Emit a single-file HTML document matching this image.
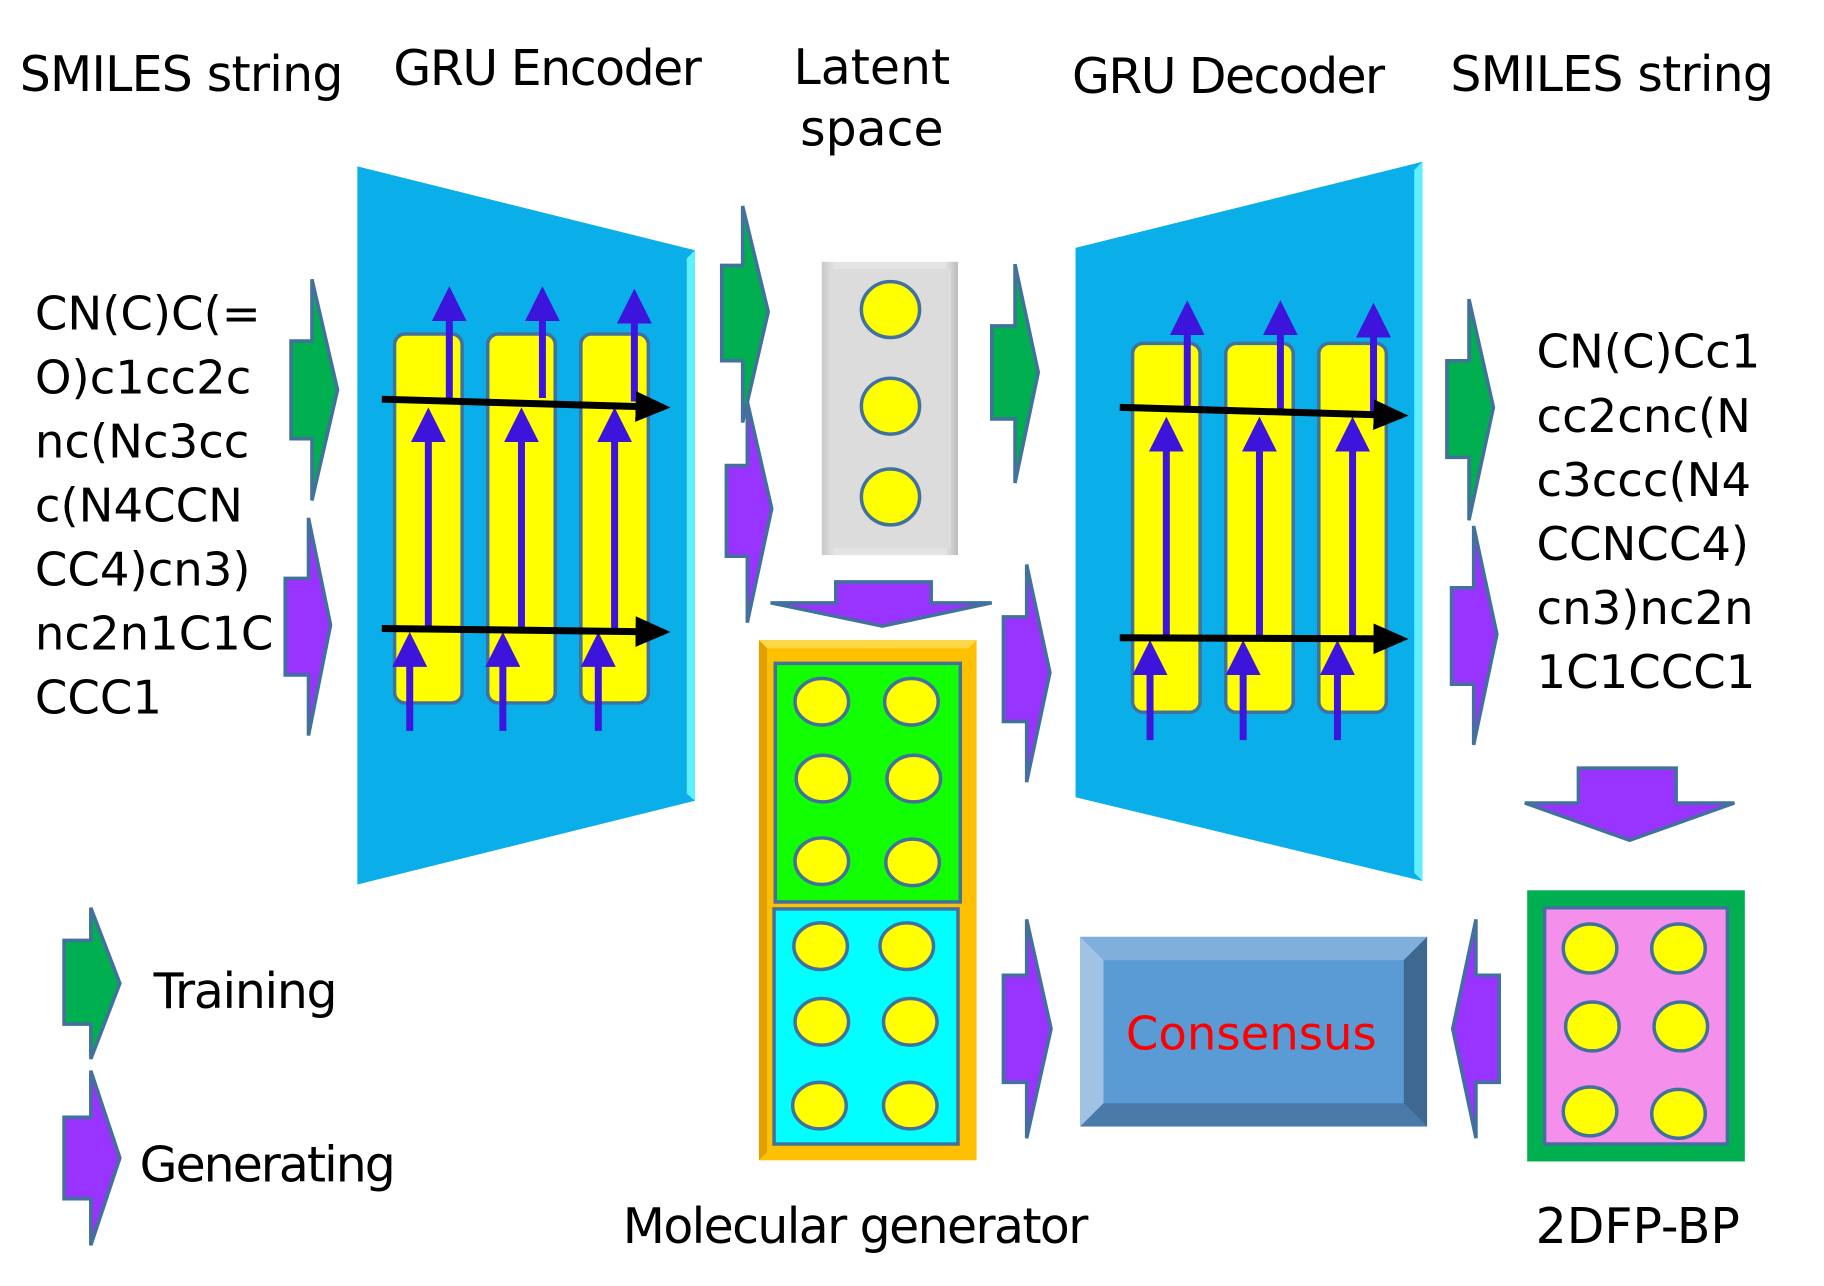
<!DOCTYPE html>
<html><head><meta charset="utf-8"><style>html,body{margin:0;padding:0;background:#fff}svg{display:block}</style></head>
<body>
<svg width="1824" height="1286" viewBox="0 0 1567 1105" preserveAspectRatio="none" xmlns="http://www.w3.org/2000/svg" font-family="'DejaVu Sans','Liberation Sans',sans-serif">
<defs>
<marker id="bh" markerWidth="6" markerHeight="6" refX="4" refY="3" orient="auto" markerUnits="strokeWidth"><path d="M0,0.8 L5,3 L0,5.2 Z" fill="#000"/></marker>
<marker id="ph" markerWidth="6" markerHeight="6" refX="3" refY="3" orient="auto" markerUnits="strokeWidth"><path d="M0,0.5 L5,3 L0,5.5 Z" fill="#3c14dc"/></marker>
<linearGradient id="gr" x1="0" x2="1"><stop offset="0" stop-color="#c8c8c8"/><stop offset="0.1" stop-color="#e4e4e4"/><stop offset="0.9" stop-color="#e4e4e4"/><stop offset="1" stop-color="#bcbcbc"/></linearGradient>
</defs>
<g fill="#000" font-size="42">
<text x="17" y="78" textLength="278">SMILES string</text>
<text x="338" y="73" textLength="265">GRU Encoder</text>
<text x="749" y="72" text-anchor="middle">Latent</text>
<text x="749" y="125" text-anchor="middle">space</text>
<text x="921" y="80" textLength="269">GRU Decoder</text>
<text x="1246" y="78" textLength="278">SMILES string</text>
</g>
<g fill="#000" font-size="40">
<text x="30" y="283">CN(C)C(=</text><text x="30" y="338">O)c1cc2c</text><text x="30" y="393">nc(Nc3cc</text><text x="30" y="448">c(N4CCN</text><text x="30" y="503">CC4)cn3)</text><text x="30" y="558">nc2n1C1C</text><text x="30" y="613">CCC1</text>
<text x="1320" y="316">CN(C)Cc1</text><text x="1320" y="371">cc2cnc(N</text><text x="1320" y="426">c3ccc(N4</text><text x="1320" y="481">CCNCC4)</text><text x="1320" y="536">cn3)nc2n</text><text x="1320" y="591">1C1CCC1</text>
</g>
<!-- encoder -->
<polygon points="307,143 597,215 597,688 307,760" fill="#0aaee8"/>
<polygon points="590,222 597,215 597,688 590,682" fill="#5ff0ff"/>
<g fill="#ffff00" stroke="#41719c" stroke-width="3">
<rect x="339" y="287" width="58" height="317" rx="9"/><rect x="419" y="287" width="58" height="317" rx="9"/><rect x="499" y="287" width="58" height="317" rx="9"/>
</g>
<g stroke="#3c14dc" stroke-width="6" marker-end="url(#ph)">
<line x1="386" y1="342" x2="386" y2="258"/><line x1="466" y1="342" x2="466" y2="258"/><line x1="545" y1="345" x2="545" y2="260"/>
<line x1="368" y1="540" x2="368" y2="362"/><line x1="448" y1="540" x2="448" y2="362"/><line x1="528" y1="540" x2="528" y2="362"/>
<line x1="352" y1="628" x2="352" y2="555"/><line x1="432" y1="628" x2="432" y2="555"/><line x1="514" y1="628" x2="514" y2="555"/>
</g>
<g stroke="#000" stroke-width="6" marker-end="url(#bh)">
<line x1="328" y1="343" x2="570" y2="350"/><line x1="328" y1="540" x2="570" y2="543"/>
</g>
<!-- decoder -->
<polygon points="924,213 1222,139 1222,757 924,685" fill="#0aaee8"/>
<polygon points="1215,146 1222,139 1222,757 1215,750" fill="#5ff0ff"/>
<g fill="#ffff00" stroke="#41719c" stroke-width="3">
<rect x="973" y="295" width="58" height="317" rx="9"/><rect x="1053" y="295" width="58" height="317" rx="9"/><rect x="1133" y="295" width="58" height="317" rx="9"/>
</g>
<g stroke="#3c14dc" stroke-width="6" marker-end="url(#ph)">
<line x1="1020" y1="352" x2="1020" y2="270"/><line x1="1100" y1="352" x2="1100" y2="270"/><line x1="1180" y1="355" x2="1180" y2="272"/>
<line x1="1002" y1="548" x2="1002" y2="370"/><line x1="1082" y1="548" x2="1082" y2="370"/><line x1="1162" y1="548" x2="1162" y2="370"/>
<line x1="988" y1="636" x2="988" y2="562"/><line x1="1068" y1="636" x2="1068" y2="562"/><line x1="1149" y1="636" x2="1149" y2="562"/>
</g>
<g stroke="#000" stroke-width="6" marker-end="url(#bh)">
<line x1="962" y1="350" x2="1204" y2="357"/><line x1="962" y1="548" x2="1204" y2="549"/>
</g>
<!-- block arrows -->
<g stroke="#41719c" stroke-width="3">
<polygon fill="#00b050" points="250,293 268,293 268,240 290,335 268,430 268,377 250,377"/>
<polygon fill="#9933ff" points="245,497 265,497 265,445 284,537 265,632 265,580 245,580"/>
<polygon fill="#00b050" points="620,228 638,228 638,177 660,268 638,363 638,310 620,310"/>
<polygon fill="#9933ff" points="624,400 642,400 642,345 663,437 642,535 642,478 624,478"/>
<polygon fill="#00b050" points="852,280 872,280 872,227 892,320 872,415 872,360 852,360"/>
<polygon fill="#9933ff" points="862,530 882,530 882,485 902,578 882,672 882,620 862,620"/>
<polygon fill="#00b050" points="1243,310 1262,310 1262,257 1283,350 1262,447 1262,393 1243,393"/>
<polygon fill="#9933ff" points="1247,505 1266,505 1266,452 1286,545 1266,640 1266,588 1247,588"/>
<polygon fill="#9933ff" points="862,838 882,838 882,790 903,884 882,978 882,930 862,930"/>
<polygon fill="#9933ff" points="1288,838 1268,838 1268,790 1248,884 1268,978 1268,930 1288,930"/>
<polygon fill="#00b050" points="55,808 78,808 78,780 103,845 78,910 78,880 55,880"/>
<polygon fill="#9933ff" points="55,960 78,960 78,920 103,995 78,1070 78,1030 55,1030"/>
<polygon fill="#9933ff" points="718,500 800,500 800,518 852,518 758,538 662,518 718,518"/>
<polygon fill="#9933ff" points="1356,660 1440,660 1440,690 1490,690 1400,722 1310,690 1356,690"/>
</g>
<text x="132" y="866" font-size="42" textLength="158">Training</text>
<text x="120" y="1015" font-size="42" textLength="220">Generating</text>
<!-- latent -->
<rect x="706" y="225" width="117" height="252" fill="url(#gr)"/>
<rect x="712" y="231" width="105" height="240" fill="#dcdcdc"/>
<g fill="#ffff00" stroke="#41719c" stroke-width="3">
<ellipse cx="765" cy="266" rx="25" ry="24"/><ellipse cx="765" cy="349" rx="25" ry="24"/><ellipse cx="765" cy="427" rx="25" ry="24"/>
</g>
<!-- generator -->
<rect x="652" y="550" width="187" height="447" fill="#ffc000"/>
<polygon points="652,550 839,550 832,557 659,557" fill="#ffd84a"/>
<polygon points="652,550 659,557 659,990 652,997" fill="#e0a000"/>
<g stroke="#41719c" stroke-width="3">
<rect x="666" y="570" width="159" height="205" fill="#11ff00"/>
<rect x="665" y="781" width="158" height="202" fill="#00ffff"/>
</g>
<g fill="#ffff00" stroke="#41719c" stroke-width="3">
<ellipse cx="706" cy="603" rx="23" ry="20"/><ellipse cx="783" cy="603" rx="23" ry="20"/><ellipse cx="707" cy="669" rx="23" ry="20"/><ellipse cx="785" cy="669" rx="23" ry="20"/><ellipse cx="706" cy="740" rx="23" ry="20"/><ellipse cx="784" cy="741" rx="23" ry="20"/>
<ellipse cx="705" cy="813" rx="23" ry="20"/><ellipse cx="779" cy="813" rx="23" ry="20"/><ellipse cx="706" cy="878" rx="23" ry="20"/><ellipse cx="782" cy="878" rx="23" ry="20"/><ellipse cx="704" cy="950" rx="23" ry="20"/><ellipse cx="782" cy="950" rx="23" ry="20"/>
</g>
<!-- consensus -->
<rect x="928" y="805" width="298" height="163" fill="#5b9bd5"/>
<polygon points="928,805 1226,805 1206,825 948,825" fill="#80afdc"/>
<polygon points="928,805 948,825 948,948 928,968" fill="#a0c2e4"/>
<polygon points="928,968 948,948 1206,948 1226,968" fill="#4a7ba8"/>
<polygon points="1226,805 1206,825 1206,948 1226,968" fill="#3e6890"/>
<text x="1075" y="902" font-size="40" fill="#ff0000" text-anchor="middle">Consensus</text>
<!-- 2DFP -->
<rect x="1312" y="765" width="187" height="233" fill="#00b050"/>
<rect x="1327" y="780" width="157" height="203" fill="#f48fec" stroke="#41719c" stroke-width="3"/>
<g fill="#ffff00" stroke="#41719c" stroke-width="3">
<ellipse cx="1366" cy="815" rx="23" ry="21"/><ellipse cx="1442" cy="815" rx="23" ry="21"/><ellipse cx="1368" cy="882" rx="23" ry="21"/><ellipse cx="1444" cy="882" rx="23" ry="21"/><ellipse cx="1366" cy="955" rx="23" ry="21"/><ellipse cx="1442" cy="957" rx="23" ry="21"/>
</g>
<text x="735" y="1068" font-size="42" text-anchor="middle" textLength="400">Molecular generator</text>
<text x="1407" y="1068" font-size="42" text-anchor="middle">2DFP-BP</text>
</svg>
</body></html>
